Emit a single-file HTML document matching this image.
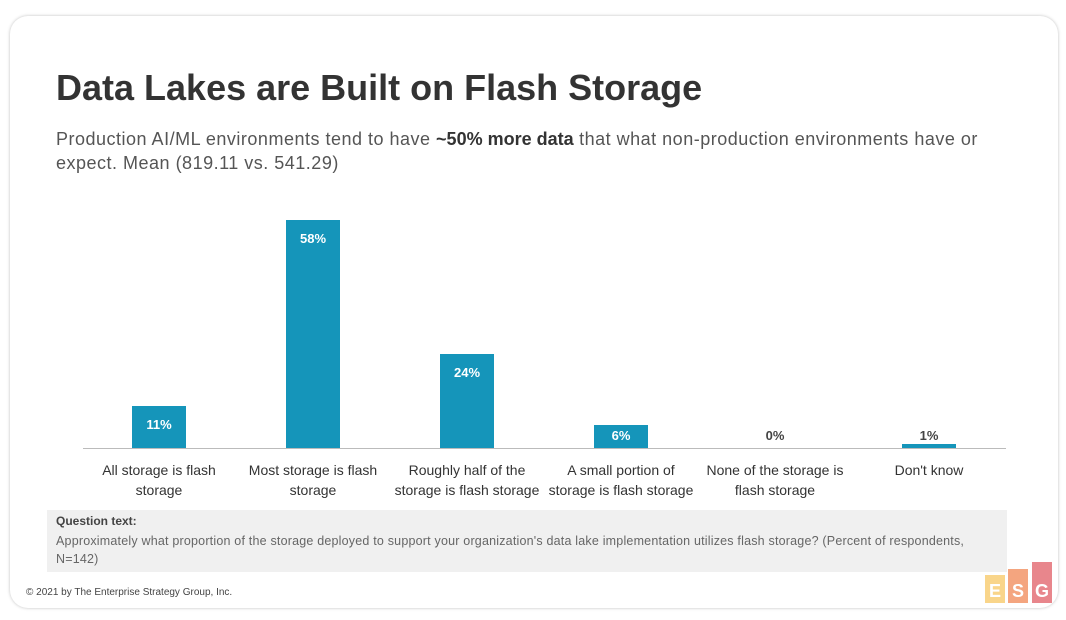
<!DOCTYPE html>
<html><head><style>
body{margin:0;background:#fff;width:1066px;height:616px;overflow:hidden;font-family:"Liberation Sans",sans-serif;position:relative}
.card{position:absolute;left:10px;top:16px;width:1048px;height:592px;background:#fff;border-radius:18px;box-shadow:0 0 3px rgba(0,0,0,0.25)}
.a{position:absolute}
.bar{position:absolute;width:54px;background:#1595ba;color:#fff;font-weight:bold;font-size:13px;text-align:center;padding-top:11px;box-sizing:border-box}
.cat{position:absolute;width:154px;text-align:center;font-size:14px;line-height:20px;color:#333;top:460px}
.v{position:absolute;width:54px;text-align:center;font-size:13px;font-weight:bold;color:#444}
</style></head><body>
<div class="card"></div>
<div class="a" style="left:56px;top:67px;font-size:36px;font-weight:bold;color:#333">Data Lakes are Built on Flash Storage</div>
<div class="a" style="left:56px;top:127px;width:1000px;font-size:18px;letter-spacing:0.5px;line-height:24px;color:#555">Production AI/ML environments tend to have <b style="color:#333;letter-spacing:0">~50% more data</b> that what non-production environments have or<br>expect. Mean (819.11 vs. 541.29)</div>
<div class="a" style="left:83px;top:448px;width:923px;height:1px;background:#bbb"></div>
<div class="bar" style="left:132px;top:406px;height:42px">11%</div>
<div class="bar" style="left:286px;top:220px;height:228px">58%</div>
<div class="bar" style="left:440px;top:354px;height:94px">24%</div>
<div class="bar" style="left:594px;top:425px;height:23px;padding-top:3px">6%</div>
<div class="v" style="left:748px;top:428px">0%</div>
<div class="bar" style="left:902px;top:444px;height:4px;padding:0"></div>
<div class="v" style="left:902px;top:428px">1%</div>
<div class="cat" style="left:82px">All storage is flash<br>storage</div>
<div class="cat" style="left:236px">Most storage is flash<br>storage</div>
<div class="cat" style="left:390px">Roughly half of the<br>storage is flash storage</div>
<div class="cat" style="left:544px">A small portion of<br>storage is flash storage</div>
<div class="cat" style="left:698px">None of the storage is<br>flash storage</div>
<div class="cat" style="left:852px">Don't know</div>
<div class="a" style="left:47px;top:510px;width:960px;height:62px;background:#f0f0f0"></div>
<div class="a" style="left:56px;top:514px;font-size:12px;font-weight:bold;color:#444">Question text:</div>
<div class="a" style="left:56px;top:532px;width:950px;font-size:12.5px;letter-spacing:0.2px;line-height:18px;color:#666">Approximately what proportion of the storage deployed to support your organization's data lake implementation utilizes flash storage? (Percent of respondents,<br>N=142)</div>
<div class="a" style="left:26px;top:587px;font-size:10px;color:#444">© 2021 by The Enterprise Strategy Group, Inc.</div>
<div class="a" style="left:985px;top:575px;width:20px;height:28px;background:#f9d58a;color:#fff;font-weight:bold;font-size:18px;text-align:center;line-height:32px">E</div>
<div class="a" style="left:1008px;top:569px;width:20px;height:34px;background:#f4a57f;color:#fff;font-weight:bold;font-size:18px;text-align:center;line-height:44px">S</div>
<div class="a" style="left:1032px;top:562px;width:20px;height:41px;background:#e8868c;color:#fff;font-weight:bold;font-size:18px;text-align:center;line-height:58px">G</div>
</body></html>
